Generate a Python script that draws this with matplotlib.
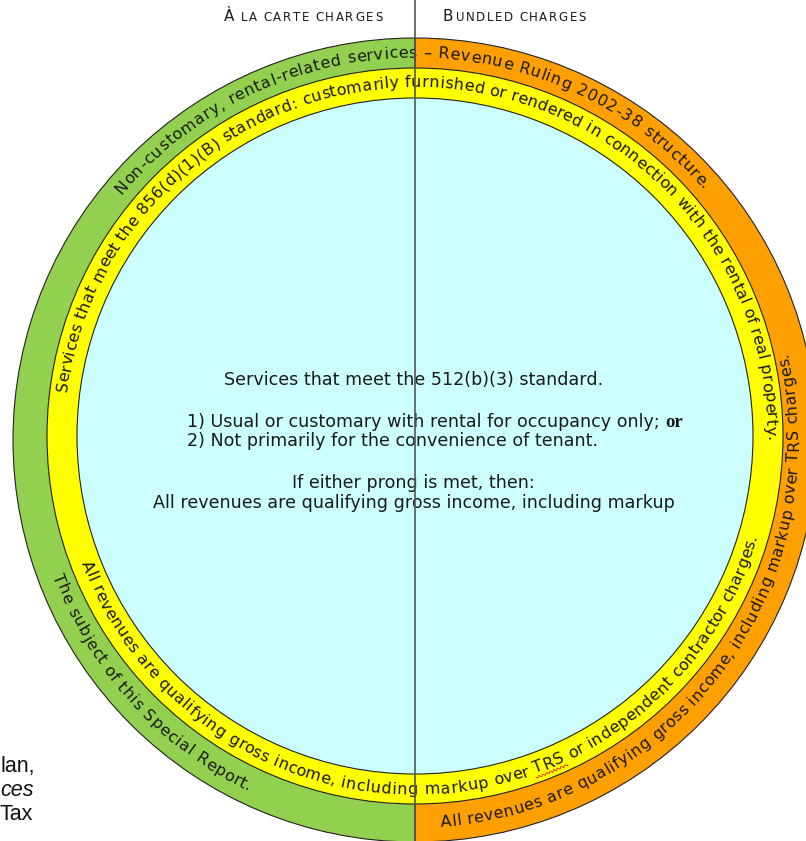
import matplotlib
matplotlib.use("Agg")
import matplotlib.pyplot as plt
import numpy as np
from matplotlib.patches import Wedge, Circle
from matplotlib.font_manager import FontProperties

# --- texts ---
header_left = ("À", " LA CARTE CHARGES")
header_right = ("B", "UNDLED CHARGES")

ring_labels = [
    "Non-customary, rental-related services \u2013 Revenue Ruling 2002-38 structure.",
    "Services that meet the 856(d)(1)(B) standard: customarily furnished or rendered in connection with the rental of real property.",
    "All revenues are qualifying gross income, including markup over TRS or independent contractor charges.",
    "The subject of this Special Report.",
    "All revenues are qualifying gross income, including markup over TRS charges.",
]

center_lines = [
    "Services that meet the 512(b)(3) standard.",
    "1) Usual or customary with rental for occupancy only; ",
    "2) Not primarily for the convenience of tenant.",
    "If either prong is met, then:",
    "All revenues are qualifying gross income, including markup",
]
center_bold = "or"

side_note = ["lan,", "ces", "Tax"]

# --- layout (pixels, y measured from the top) ---
W, H = 806, 841
CX = 415
CY_OUT, CY_IN = 440, 436
R_OUT, R_YEL, R_CYAN = 402, 368, 338
# (radius at start, radius at end, start angle, end angle, on top?)
ring_layout = [
    (381, 380, 140.4, 40.7, True),
    (351, 351, 172.5, -0.5, True),
    (357, 356, 200.5, 344.0, False),
    (388, 391, 200.7, 244.8, False),
    (390, 382, 273.7, 373.1, False),
]

GREEN, ORANGE, YELLOW, CYAN = "#92D050", "#FFA000", "#FFFF00", "#CCFFFF"
INK = "#1a1a1a"
FS_ARC, FS_MID = 11.5, 12.6


def Y(y):
    return H - y


fig = plt.figure(figsize=(W / 100, H / 100), dpi=100)
ax = fig.add_axes([0, 0, 1, 1])
ax.set_xlim(0, W)
ax.set_ylim(0, H)
ax.axis("off")
rend = fig.canvas.get_renderer()


def advances(s, prop):
    base = rend.get_text_width_height_descent("xx", prop, ismath=False)[0]
    return [rend.get_text_width_height_descent("x" + c + "x", prop, ismath=False)[0] - base
            for c in s]


def arc_text(s, r0, r1, a0, a1, top, size=FS_ARC):
    prop = FontProperties(family="DejaVu Sans", size=size)
    adv = advances(s, prop)
    rm = (r0 + r1) / 2
    k = np.radians(abs(a1 - a0)) * rm / sum(adv)
    sign = -1 if top else 1
    cy = Y(438)
    pos = 0
    angles = []
    for c, w in zip(s, adv):
        th = np.radians(a0) + sign * (pos + w / 2) * k / rm
        r = r0 + (r1 - r0) * (pos + w / 2) / sum(adv)
        pos += w
        rot = np.degrees(th) - 90 if top else np.degrees(th) + 90
        ax.text(CX + r * np.cos(th), cy + r * np.sin(th), c, fontproperties=prop,
                rotation=rot, rotation_mode="anchor", ha="center", va="baseline",
                color=INK, zorder=5)
        angles.append((th - sign * w / 2 * k / rm, th + sign * w / 2 * k / rm))
    return angles


def spaced_text(parts, sizes, x0, x1, y):
    chars, adv, props = [], [], []
    for p, sz in zip(parts, sizes):
        prop = FontProperties(family="DejaVu Sans", size=sz)
        chars += list(p)
        adv += advances(p, prop)
        props += [prop] * len(p)
    k = (x1 - x0) / sum(adv)
    x = x0
    for c, w, prop in zip(chars, adv, props):
        ax.text(x, Y(y), c, fontproperties=prop, ha="left", va="baseline", color=INK)
        x += w * k


# rings
ax.add_patch(Wedge((CX, Y(CY_OUT)), R_OUT, 90, 270, facecolor=GREEN, edgecolor="#222", lw=0.8))
ax.add_patch(Wedge((CX, Y(CY_OUT)), R_OUT, -90, 90, facecolor=ORANGE, edgecolor="#222", lw=0.8))
ax.add_patch(Circle((CX, Y(CY_IN)), R_YEL, facecolor=YELLOW, edgecolor="#222", lw=0.8))
ax.add_patch(Circle((CX, Y(CY_IN)), R_CYAN, facecolor=CYAN, edgecolor="#222", lw=0.8))

# curved labels
spans = []
for label, (r0, r1, a0, a1, top) in zip(ring_labels, ring_layout):
    spans.append(arc_text(label, r0, r1, a0, a1, top))

# spell-check squiggle under "TRS"
i = ring_labels[2].index("TRS")
t0, t1 = spans[2][i][0], spans[2][i + 2][1]
t = np.linspace(t0, t1, 80)
rr = 360.5 + 1.0 * np.sin((t - t0) * 360 / 2.0 * np.pi)
ax.plot(CX + rr * np.cos(t), Y(438) + rr * np.sin(t), color="#e02020", lw=0.6, zorder=6)

# center block
cprop = FontProperties(family="DejaVu Sans", size=FS_MID)
ax.text(414, Y(385), center_lines[0], fontproperties=cprop, ha="center", va="baseline", color=INK)
ax.text(187, Y(427), center_lines[1], fontproperties=cprop, ha="left", va="baseline", color=INK)
w1 = rend.get_text_width_height_descent(center_lines[1], cprop, ismath=False)[0]
ax.text(187 + w1, Y(427), center_bold, family="Liberation Serif", weight="bold", size=13.5,
        ha="left", va="baseline", color=INK)
ax.text(187, Y(446), center_lines[2], fontproperties=cprop, ha="left", va="baseline", color=INK)
ax.text(413, Y(488), center_lines[3], fontproperties=cprop, ha="center", va="baseline", color=INK)
ax.text(414, Y(508), center_lines[4], fontproperties=cprop, ha="center", va="baseline", color=INK)

# headers in small caps
spaced_text(header_left, (11, 8.5), 224, 384, 21)
spaced_text(header_right, (11, 8.5), 443, 587, 21)

# divider
ax.axvline(CX, color="#555555", lw=1.2, zorder=10)

# clipped side note
for j, (s, yb) in enumerate(zip(side_note, (772, 796, 820))):
    ax.text(1 if j == 0 else 0, Y(yb), s, family="Liberation Sans", size=15.5,
            style="italic" if j == 1 else "normal", ha="left", va="baseline", color="#111")

fig.savefig("out.png", dpi=100)
